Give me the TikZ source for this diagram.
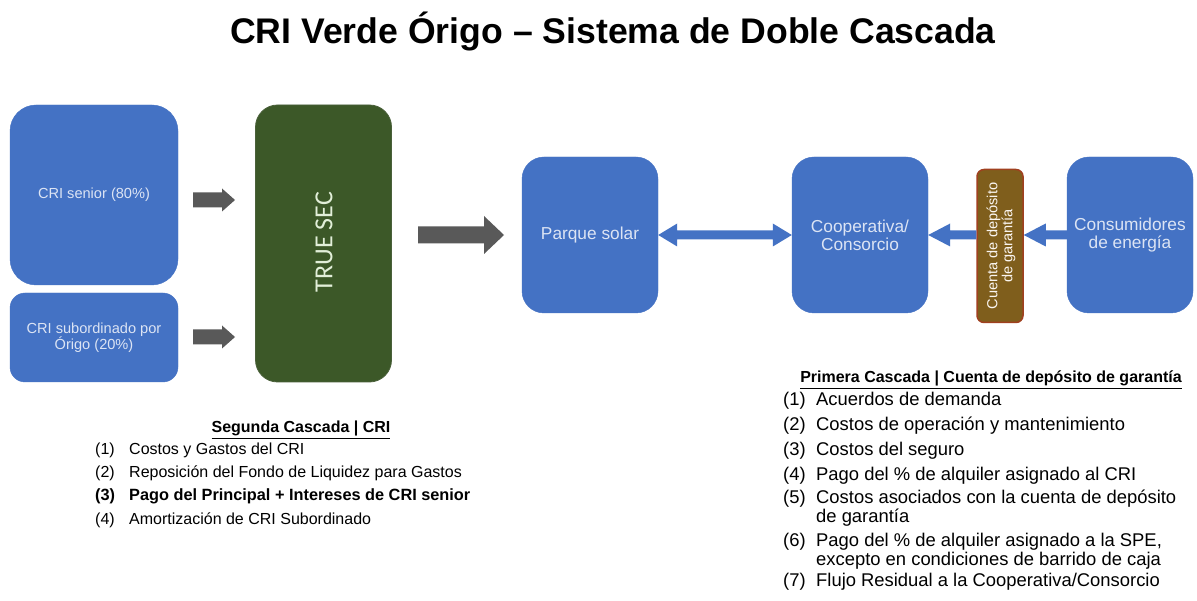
\documentclass[tikz,border=0pt]{standalone}
\usepackage{fontspec}
\setmainfont{Liberation Sans}
\newfontfamily\calibfont{Carlito}
\usetikzlibrary{calc}
\definecolor{boxblue}{HTML}{4472C4}
\definecolor{boxtext}{HTML}{DCE4F4}
\definecolor{darkgreen}{HTML}{3C5828}
\definecolor{greentext}{HTML}{E2EFD9}
\definecolor{brownfill}{HTML}{7F5E1C}
\definecolor{brownedge}{HTML}{A0401F}
\definecolor{arrgray}{HTML}{595959}
\newcommand{\myrarrow}[6]{%
  \fill[#6] let \p1=(#1), \p2=(#2), \n1={sign(\x2-\x1)} in
  (\x1,\y1+#3pt) -- ({\x2-\n1*#5pt},\y1+#3pt) -- ({\x2-\n1*#5pt},\y1+#4pt) -- (\x2,\y1)
  -- ({\x2-\n1*#5pt},\y1-#4pt) -- ({\x2-\n1*#5pt},\y1-#3pt) -- (\x1,\y1-#3pt) -- cycle;}
\newcommand{\mydarrow}[6]{%
  \fill[#6] let \p1=(#1), \p2=(#2) in
  (\x1,\y1) -- ({\x1+#5pt},\y1+#4pt) -- ({\x1+#5pt},\y1+#3pt) -- ({\x2-#5pt},\y1+#3pt)
  -- ({\x2-#5pt},\y1+#4pt) -- (\x2,\y1) -- ({\x2-#5pt},\y1-#4pt) -- ({\x2-#5pt},\y1-#3pt)
  -- ({\x1+#5pt},\y1-#3pt) -- ({\x1+#5pt},\y1-#4pt) -- cycle;}
\tikzset{
  bluebox/.style={fill=boxblue, draw=boxblue, text=boxtext, align=center, inner sep=0pt,
    font=\fontsize{17.3}{18}\selectfont},
  listnum/.style={anchor=base west, inner sep=0pt},
  listtxt/.style={anchor=base west, inner sep=0pt},
}
\begin{document}
\begin{tikzpicture}[x=1pt,y=-1pt]
\useasboundingbox (0,0) rectangle (1197,601);
\fill[white] (0,0) rectangle (1197,601);

% title
\node[anchor=base, inner sep=0pt, font=\fontsize{35.6}{40}\selectfont\bfseries] (title) at (613,44)
  {CRI Verde Órigo – Sistema de Doble Cascada};

% left boxes
\node[bluebox, minimum width=168pt, minimum height=180pt, rounded corners=26pt,
  font=\fontsize{14.6}{16}\selectfont] (senior) at (94,195) {CRI senior (80\%)};
\node[bluebox, minimum width=168pt, minimum height=89pt, rounded corners=15pt,
  font=\fontsize{14.6}{16}\selectfont] (sub) at (94,337.5) {CRI subordinado por\\Órigo (20\%)};
\node[fill=darkgreen, draw=darkgreen!80!gray, line width=0.8pt, minimum width=136pt, minimum height=277pt,
  rounded corners=22pt, inner sep=0pt] (truesec) at (323.5,243.5) {};
\node[rotate=90, text=greentext, inner sep=0pt, font=\calibfont\fontsize{26}{28}\selectfont]
  (truesectext) at (324,242) {TRUE SEC};

% gray arrows
\coordinate (g1s) at (193,200);
\coordinate (g1e) at (235,200);
\coordinate (g2s) at (193,337);
\coordinate (g2e) at (235,337);
\coordinate (g3s) at (418,235);
\coordinate (g3e) at (504,235);
\myrarrow{g1s}{g1e}{7.5}{11.5}{13}{arrgray}
\myrarrow{g2s}{g2e}{7.5}{11.5}{13}{arrgray}
\myrarrow{g3s}{g3e}{8.5}{19}{20}{arrgray}

% right boxes
\node[bluebox, minimum width=136pt, minimum height=156pt, rounded corners=22pt] (parque) at (590,235) {Parque solar};
\node[bluebox, minimum width=136pt, minimum height=156pt, rounded corners=22pt] (coop) at (860,235) {Cooperativa/\\Consorcio};
\node[bluebox, minimum width=126pt, minimum height=156pt, rounded corners=22pt] (cons) at (1130,235) {Consumidores\\de energía};
\node[fill=brownfill, draw=brownedge, line width=1.5pt, minimum width=46pt, minimum height=153pt,
  rounded corners=7pt, inner sep=0pt] (cuenta) at (1000,246) {};
\node[rotate=90, text=white!92!brown, align=center, inner sep=0pt, font=\fontsize{14.6}{15}\selectfont]
  (cuentatext) at (1001,246) {Cuenta de depósito\\de garantía};

% blue arrows
\mydarrow{parque.east}{coop.west}{4.5}{11.5}{19}{boxblue}
\myrarrow{cuenta.west |- coop.east}{coop.east}{4.5}{11.5}{22}{boxblue}
\myrarrow{cons.west}{cuenta.east |- cons.west}{4.5}{11.5}{22}{boxblue}

% Segunda cascada
\node[anchor=base, inner sep=0pt, font=\fontsize{16}{18}\selectfont\bfseries] (segtitle) at (301,433)
  {\underline{Segunda Cascada | CRI}};
\begin{scope}[font=\fontsize{16}{18}\selectfont]
\node[listnum] (sn1) at (95,454) {(1)};
\node[listtxt] (st1) at (129,454) {Costos y Gastos del CRI};
\node[listnum] (sn2) at (95,477.3) {(2)};
\node[listtxt] (st2) at (129,477.3) {Reposición del Fondo de Liquidez para Gastos};
\node[listnum, font=\fontsize{16.3}{18}\selectfont\bfseries] (sn3) at (95,500.6) {(3)};
\node[listtxt, font=\fontsize{16.3}{18}\selectfont\bfseries] (st3) at (129,500.6) {Pago del Principal + Intereses de CRI senior};
\node[listnum] (sn4) at (95,524) {(4)};
\node[listtxt] (st4) at (129,524) {Amortización de CRI Subordinado};
\end{scope}

% Primera cascada
\node[anchor=base, inner sep=0pt, font=\fontsize{16}{18}\selectfont\bfseries] (pritle) at (991,383)
  {\underline{Primera Cascada | Cuenta de depósito de garantía}};
\begin{scope}[font=\fontsize{18.4}{20}\selectfont]
\node[listnum] (pn1) at (783,406) {(1)};
\node[listtxt] (pt1) at (816,406) {Acuerdos de demanda};
\node[listnum] (pn2) at (783,431) {(2)};
\node[listtxt] (pt2) at (816,431) {Costos de operación y mantenimiento};
\node[listnum] (pn3) at (783,456) {(3)};
\node[listtxt] (pt3) at (816,456) {Costos del seguro};
\node[listnum] (pn4) at (783,480) {(4)};
\node[listtxt] (pt4) at (816,480) {Pago del \% de alquiler asignado al CRI};
\node[listnum] (pn5) at (783,503) {(5)};
\node[listtxt] (pt5) at (816,503) {Costos asociados con la cuenta de depósito};
\node[listtxt] (pt5b) at (816,522) {de garantía};
\node[listnum] (pn6) at (783,546) {(6)};
\node[listtxt] (pt6) at (816,546) {Pago del \% de alquiler asignado a la SPE,};
\node[listtxt] (pt6b) at (816,565) {excepto en condiciones de barrido de caja};
\node[listnum] (pn7) at (783,586) {(7)};
\node[listtxt] (pt7) at (816,586) {Flujo Residual a la Cooperativa/Consorcio};
\end{scope}
\end{tikzpicture}
\end{document}
